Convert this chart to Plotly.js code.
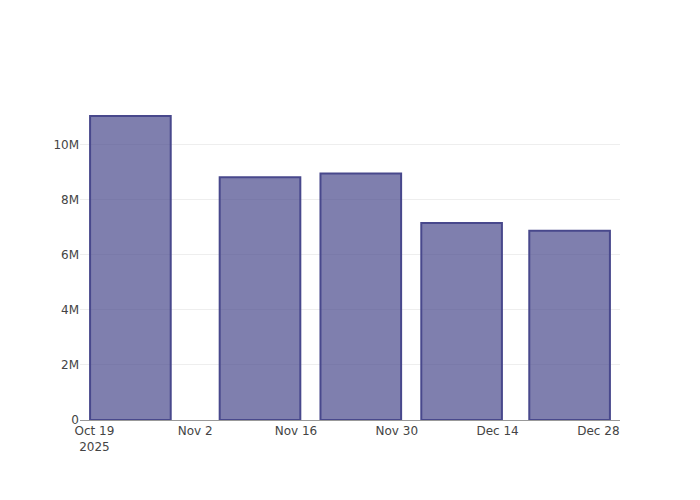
<!DOCTYPE html>
<html>
<head>
<meta charset="utf-8">
<script src="https://cdn.plot.ly/plotly-3.0.1.min.js"></script>
<style>html,body{margin:0;padding:0;background:#fff;}</style>
</head>
<body>
<div id="chart" style="width:700px;height:500px;"></div>
<script>
const dates = ['2025-10-24', '2025-11-11', '2025-11-25', '2025-12-09', '2025-12-24'];
const values = [11040000, 8820000, 8950000, 7150000, 6870000];

const trace = {
  type: 'bar',
  x: dates,
  y: values,
  marker: {
    color: 'rgba(72,72,140,0.7)',
    line: {color: 'rgb(72,72,140)', width: 2}
  }
};

const layout = {
  width: 700,
  height: 500,
  margin: {l: 80, r: 80, t: 100, b: 80},
  paper_bgcolor: '#fff',
  plot_bgcolor: '#fff',
  font: {family: 'DejaVu Sans', color: '#444', size: 12},
  showlegend: false,
  xaxis: {
    type: 'date',
    range: ['2025-10-17', '2025-12-31'],
    showgrid: false,
    showline: true,
    linecolor: '#999',
    linewidth: 1,
    zeroline: false
  },
  yaxis: {
    gridcolor: '#eee',
    zeroline: false,
    rangemode: 'tozero'
  }
};

Plotly.newPlot('chart', [trace], layout, {displayModeBar: false});
</script>
</body>
</html>
